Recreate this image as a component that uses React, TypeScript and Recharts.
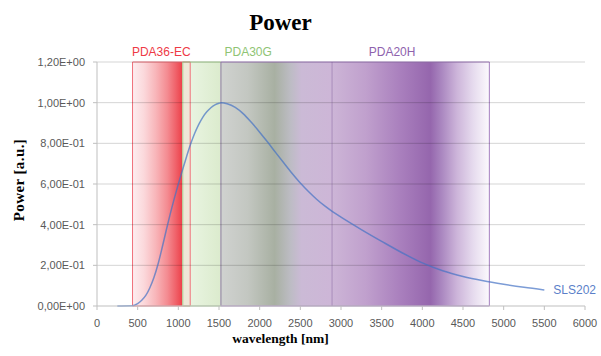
import React from 'react';
import { ComposedChart, Line, XAxis, YAxis, ReferenceArea, ReferenceLine, ReferenceDot } from 'recharts';

const wavelengths = [250, 430, 500, 550, 600, 650, 700, 750, 800, 850, 900, 950, 1000, 1050, 1100, 1150, 1200, 1250, 1300, 1350, 1400, 1450, 1500, 1530, 1600, 1700, 1800, 1900, 2000, 2100, 2200, 2300, 2400, 2500, 2600, 2700, 2800, 2900, 3000, 3250, 3500, 3750, 4000, 4250, 4500, 4750, 5000, 5250, 5500];
const power = [0, 0.001, 0.012, 0.028, 0.052, 0.09, 0.14, 0.205, 0.285, 0.37, 0.452, 0.528, 0.6, 0.668, 0.733, 0.795, 0.848, 0.892, 0.928, 0.955, 0.975, 0.989, 0.997, 1.0, 0.995, 0.977, 0.945, 0.902, 0.855, 0.805, 0.753, 0.702, 0.652, 0.605, 0.563, 0.525, 0.492, 0.463, 0.437, 0.376, 0.318, 0.262, 0.212, 0.173, 0.145, 0.124, 0.107, 0.092, 0.079];

const xTicks = [0, 500, 1000, 1500, 2000, 2500, 3000, 3500, 4000, 4500, 5000, 5500, 6000];
const yTicks = [0, 0.2, 0.4, 0.6, 0.8, 1.0, 1.2];
const yTickLabels = ['0,00E+00', '2,00E-01', '4,00E-01', '6,00E-01', '8,00E-01', '1,00E+00', '1,20E+00'];

const detectorNames = ['PDA36-EC', 'PDA30G', 'PDA20H'];
const detectorStart = [437, 1055, 1524];
const detectorEnd = [1146, 1524, 4824];
const detectorLabelX = [790, 1859, 3628];
const separatorX = 2890;
const seriesName = 'SLS202';

const data = wavelengths.map((w, i) => ({ w, p: power[i] }));

const detColors = ['#ee3a45', '#8fc474', '#8e62ad'];
const detStroke = ['#f0707a', '#a6d191', '#a47fc0'];
const fills = ['url(#gRed)', 'url(#gGreen)', 'url(#gPurple)'];

const tickStyle = { fontSize: 11, fill: '#595959', fontFamily: '"Liberation Sans", Arial, sans-serif' };

export default function App() {
  return (
    <div style={{ position: 'absolute', left: 0, top: 0, width: 601, height: 356, background: '#fff' }}>
      <ComposedChart width={601} height={356} data={data} margin={{ top: 62, right: 16, left: 0, bottom: 20 }}>
        <defs>
          <linearGradient id="gRed" x1="0" y1="0" x2="1" y2="0">
            <stop offset="0" stopColor="#fdeef0" />
            <stop offset="0.2" stopColor="#fbd8db" />
            <stop offset="0.4" stopColor="#f8b6ba" />
            <stop offset="0.6" stopColor="#f48c92" />
            <stop offset="0.75" stopColor="#f0626a" />
            <stop offset="0.85" stopColor="#ed444d" />
            <stop offset="0.87" stopColor="#f3d8cf" />
            <stop offset="1" stopColor="#f3e9dc" />
          </linearGradient>
          <linearGradient id="gGreen" x1="0" y1="0" x2="1" y2="0">
            <stop offset="0" stopColor="#efe7d7" />
            <stop offset="0.19" stopColor="#efe8d8" />
            <stop offset="0.2" stopColor="#e9f4e1" />
            <stop offset="1" stopColor="#dbebcd" />
          </linearGradient>
          <linearGradient id="gPurple" x1="0" y1="0" x2="1" y2="0">
            <stop offset="0" stopColor="#d0d2d0" />
            <stop offset="0.1" stopColor="#c3c7c1" />
            <stop offset="0.2" stopColor="#a8b0a2" />
            <stop offset="0.26" stopColor="#bdbcc4" />
            <stop offset="0.3" stopColor="#cbbad6" />
            <stop offset="0.41" stopColor="#cdb6d7" />
            <stop offset="0.54" stopColor="#c0a0cd" />
            <stop offset="0.67" stopColor="#a97fbd" />
            <stop offset="0.78" stopColor="#9566ad" />
            <stop offset="0.82" stopColor="#a985bf" />
            <stop offset="0.88" stopColor="#cdb5da" />
            <stop offset="0.94" stopColor="#e6dbee" />
            <stop offset="1" stopColor="#fcfafd" />
          </linearGradient>
        </defs>
        <XAxis
          dataKey="w"
          type="number"
          domain={[0, 6000]}
          ticks={xTicks}
          interval={0}
          height={30}
          tick={tickStyle}
          tickSize={4}
          tickMargin={9}
          stroke="#bfbfbf"
          axisLine={{ stroke: '#bfbfbf' }}
          tickLine={{ stroke: '#bfbfbf' }}
        />
        <YAxis
          type="number"
          domain={[0, 1.2]}
          ticks={yTicks}
          interval={0}
          width={97}
          tick={tickStyle}
          tickSize={4}
          tickMargin={8}
          tickFormatter={(v: number, i: number) => yTickLabels[i] ?? String(v)}
          axisLine={{ stroke: '#bfbfbf' }}
          tickLine={{ stroke: '#bfbfbf' }}
        />
        {detectorNames.map((n, i) => (
          <ReferenceArea key={'f' + n} x1={detectorStart[i]} x2={detectorEnd[i]} y1={0} y2={1.2} fill={fills[i]} fillOpacity={1} stroke="none" />
        ))}
        {yTicks.slice(1).map((y) => (
          <ReferenceLine key={'g' + y} y={y} stroke="rgba(0,0,0,0.17)" strokeWidth={1} />
        ))}
        {detectorNames.map((n, i) => (
          <ReferenceArea key={'s' + n} x1={detectorStart[i]} x2={detectorEnd[i]} y1={0} y2={1.2} fill="none" fillOpacity={0} stroke={detStroke[i]} strokeWidth={1} />
        ))}
        <ReferenceLine x={separatorX} stroke="rgba(110,70,140,0.35)" strokeWidth={1} />
        <Line
          type="monotone"
          dataKey="p"
          stroke="#4472c4"
          strokeOpacity={0.7}
          strokeWidth={1.5}
          dot={false}
          isAnimationActive={false}
        />
        {detectorNames.map((n, i) => (
          <ReferenceDot
            key={'l' + n}
            x={detectorLabelX[i]}
            y={1.2}
            r={0}
            fill="none"
            stroke="none"
            label={{ value: n, position: 'top', offset: 6, fill: detColors[i], fontSize: 12, fontFamily: '"Liberation Sans", Arial, sans-serif' }}
          />
        ))}
        <ReferenceDot
          x={wavelengths[wavelengths.length - 1]}
          y={power[power.length - 1]}
          r={0}
          fill="none"
          stroke="none"
          label={{ value: seriesName, position: 'right', offset: 9, fill: '#5b7fc9', fontSize: 12, fontFamily: '"Liberation Sans", Arial, sans-serif' }}
        />
      </ComposedChart>
      <div style={{ position: 'absolute', left: 0, top: 11, width: 561, textAlign: 'center', fontFamily: '"Liberation Serif", "Times New Roman", serif', fontWeight: 'bold', fontSize: 23, lineHeight: '23px', color: '#000' }}>
        Power
      </div>
      <div style={{ position: 'absolute', left: 0, top: 332, width: 561, textAlign: 'center', fontFamily: '"Liberation Serif", "Times New Roman", serif', fontWeight: 'bold', fontSize: 13.5, lineHeight: '13.5px', color: '#000' }}>
        wavelength [nm]
      </div>
      <div style={{ position: 'absolute', left: 19, top: 180, transform: 'translate(-50%, -50%) rotate(-90deg)', whiteSpace: 'nowrap', fontFamily: '"Liberation Serif", "Times New Roman", serif', fontWeight: 'bold', fontSize: 15, lineHeight: '15px', letterSpacing: 0.4, color: '#000' }}>
        Power [a.u.]
      </div>
    </div>
  );
}
